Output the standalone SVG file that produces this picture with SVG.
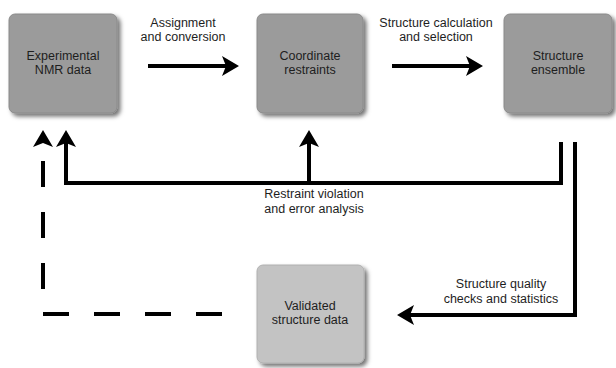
<svg xmlns="http://www.w3.org/2000/svg" width="616" height="368" viewBox="0 0 616 368">
  <style>
    .box { fill: #9b9b9b; stroke: #8a8a8a; stroke-width: 1; filter: url(#shadow); }
    .box.light { fill: #c3c3c3; stroke: #b0b0b0; }
    .t { font-family: "Liberation Sans", Arial, sans-serif; font-size: 12.5px; fill: #1e1e1e; text-anchor: middle; }
    .c { fill: none; stroke: #000; stroke-width: 4; stroke-linejoin: miter; stroke-linecap: butt; }
    .dash { stroke-dasharray: 26 25; }
  </style>
  <defs>
    <filter id="shadow" x="-20%" y="-20%" width="150%" height="150%">
      <feDropShadow dx="3" dy="3" stdDeviation="2" flood-color="#000" flood-opacity="0.55"/>
    </filter>
    <marker id="ah" markerUnits="userSpaceOnUse" viewBox="-6 -12 24 24" markerWidth="24" markerHeight="24" refX="0" refY="0" orient="auto">
      <path d="M13,0 L-4,-10 L0,0 L-4,10 Z" fill="#000"/>
    </marker>
  </defs>
  <rect width="616" height="368" fill="#fff"/>

  <g id="n-experimental">
    <rect class="box" x="9" y="14" width="108" height="99" rx="6"/>
    <text class="t" x="63" y="60">Experimental</text>
    <text class="t" x="63" y="74">NMR data</text>
  </g>
  <g id="n-restraints">
    <rect class="box" x="257" y="14" width="106" height="99" rx="6"/>
    <text class="t" x="310" y="60">Coordinate</text>
    <text class="t" x="310" y="74">restraints</text>
  </g>
  <g id="n-ensemble">
    <rect class="box" x="504" y="14" width="108" height="99" rx="6"/>
    <text class="t" x="558" y="60">Structure</text>
    <text class="t" x="558" y="74">ensemble</text>
  </g>
  <g id="n-validated">
    <rect class="box light" x="257" y="265" width="107" height="98" rx="6"/>
    <text class="t" x="310" y="310">Validated</text>
    <text class="t" x="310" y="324">structure data</text>
  </g>

  <g id="connectors">
    <path class="c" d="M148,66 H226" marker-end="url(#ah)"/>
    <path class="c" d="M392,66 H470" marker-end="url(#ah)"/>
    <path class="c" d="M561,142 V183 H66 V143" marker-end="url(#ah)"/>
    <path class="c" d="M309,183 V143" marker-end="url(#ah)"/>
    <path class="c" d="M575,142 V315 H410" marker-end="url(#ah)"/>
    <path class="c dash" d="M222,314 H43 V143" marker-end="url(#ah)"/>
  </g>

  <g id="labels">
    <text class="t" x="183" y="27">Assignment</text>
    <text class="t" x="183" y="41">and conversion</text>
    <text class="t" x="436" y="27">Structure calculation</text>
    <text class="t" x="436" y="41">and selection</text>
    <text class="t" x="314" y="198">Restraint violation</text>
    <text class="t" x="314" y="213">and error analysis</text>
    <text class="t" x="501" y="288">Structure quality</text>
    <text class="t" x="501" y="303">checks and statistics</text>
  </g>
</svg>
